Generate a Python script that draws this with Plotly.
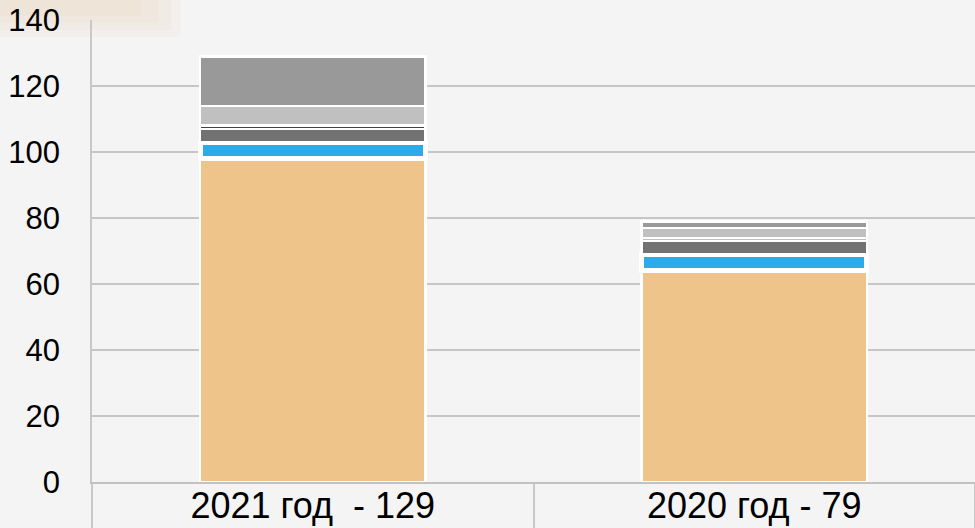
import plotly.graph_objects as go

# ---- data ----
categories = ["2021 год \u00a0- 129", "2020 год - 79"]
seg_base = [98, 64]        # tan
seg_blue = [5, 5]          # blue (highlighted)
seg_dark = [4, 4]          # dark gray
seg_thin = [1, 1]          # thin segment
seg_light = [6, 3]         # light gray
seg_top = [15, 2]          # top gray
y_ticks = [0, 20, 40, 60, 80, 100, 120, 140]

BG = "#f4f4f4"
fig = go.Figure()

def add(vals, color, lw=2.5):
    fig.add_trace(go.Bar(
        x=categories, y=vals,
        marker=dict(color=color, line=dict(color="white", width=lw)),
        hoverinfo="skip", showlegend=False,
    ))

add(seg_base, "#EEC48A")
add(seg_blue, "#2EAAE8", lw=5)
add(seg_dark, "#727272")
add(seg_thin, ["#404040", "#BEBEBE"])
add(seg_light, "#C0C0C0")
add(seg_top, "#999999")

# top-left warm glow in the background
glow = [(0.08, 0.205, 0.08), (0.065, 0.195, 0.08), (0.05, 0.18, 0.09), (0.035, 0.16, 0.09)]
for (dy, xr, op) in glow:
    fig.add_shape(type="rect", xref="paper", yref="paper",
                  x0=-0.105, x1=-0.105 + xr, y0=1.044 - dy, y1=1.044,
                  fillcolor=f"rgba(232,196,150,{op})", line=dict(width=0), layer="below")

fig.update_layout(
    width=975, height=528, autosize=False,
    margin=dict(l=92, r=0, t=20, b=46),
    paper_bgcolor=BG, plot_bgcolor=BG,
    barmode="stack", bargap=0.49,
    font=dict(family="Liberation Sans, Arial, sans-serif", color="#000000"),
    xaxis=dict(
        type="category", automargin=False,
        showline=True, linecolor="#c2c2c2", linewidth=1.5,
        ticks="outside", tickson="boundaries", ticklen=46,
        tickcolor="#c8c8c8", tickwidth=1.5,
        tickfont=dict(size=36, family="Liberation Sans, Arial, sans-serif"),
        ticklabelstandoff=-9,
        showgrid=False, zeroline=False, fixedrange=True,
    ),
    yaxis=dict(
        range=[0, 140], tickvals=y_ticks, automargin=False,
        showline=True, linecolor="#c8c8c8", linewidth=1.5,
        showgrid=True, gridcolor="#c6c6c6", gridwidth=1.5,
        zeroline=False,
        tickfont=dict(size=31, family="Liberation Sans, Arial, sans-serif"),
        ticks="", ticklabelstandoff=24, fixedrange=True,
    ),
)

fig.write_html(
    "out.html",
    config={"displayModeBar": False},
    post_script="document.body.style.margin='0';document.body.style.background='#f4f4f4';",
)
